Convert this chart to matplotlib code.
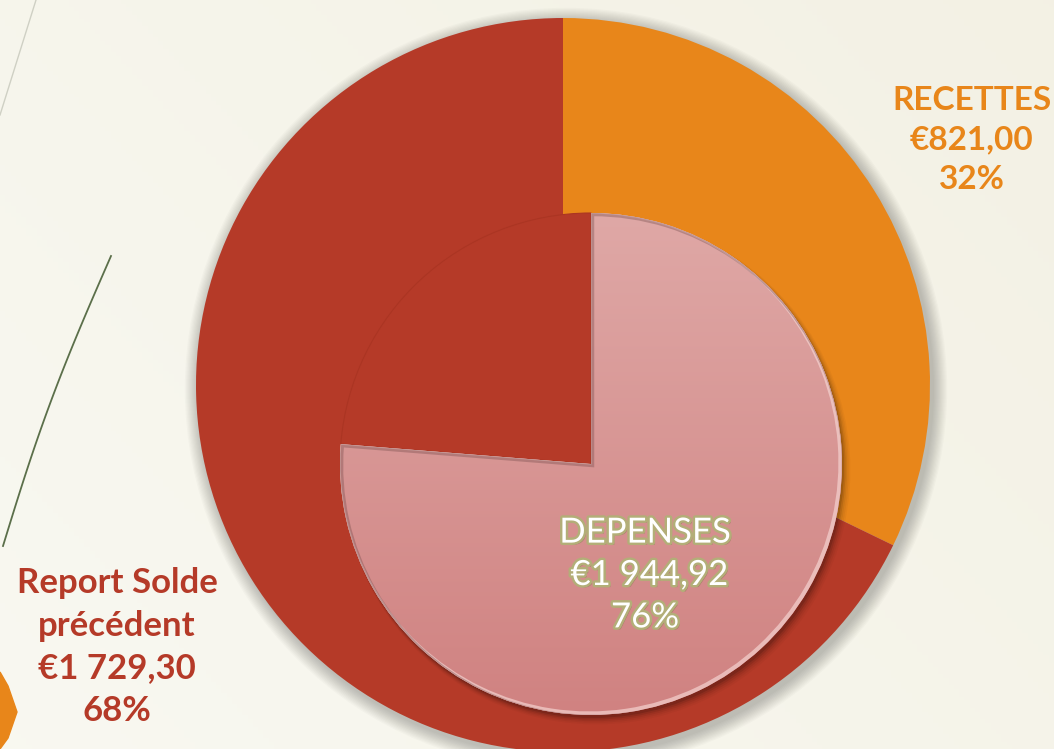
import numpy as np
import matplotlib
matplotlib.use("Agg")
import matplotlib.pyplot as plt
import matplotlib.patheffects as pe
from matplotlib.patches import Polygon, Circle, Wedge

# ---- data ----
outer_labels = ["RECETTES", "Report Solde\nprécédent"]
outer_values = [821.00, 1729.30]
inner_labels = ["DEPENSES", ""]
inner_values = [1944.92, 605.38]
total = sum(outer_values)

ORANGE = "#E8861A"
RED = "#B53A28"
PINK_TOP = "#DFA8A6"
PINK_BOT = "#D08281"

def euro(v):
    s = f"{v:,.2f}".replace(",", " ").replace(".", ",")
    return "€" + s

W, H = 1054, 749
fig = plt.figure(figsize=(W / 100, H / 100), dpi=100)
ax = fig.add_axes([0, 0, 1, 1])
ax.set_xlim(0, W)
ax.set_ylim(0, H)
ax.axis("off")

# background gradient
yy, xx = np.mgrid[0:1:200j, 0:1:200j]
t = (xx * 0.6 + (1 - yy) * 0.4)
c1 = np.array([0.975, 0.973, 0.945])
c2 = np.array([0.953, 0.945, 0.895])
bg = c1[None, None, :] * (1 - t[..., None]) + c2[None, None, :] * t[..., None]
ax.imshow(bg, extent=[0, W, 0, H], origin="upper", aspect="auto", zorder=0)

# decorative lines
ax.plot([36, 0], [H - 0, H - 115], color="#cfd0c4", lw=1.0, zorder=1)
ly = np.linspace(0, 1, 50)
lx = 111 - 108 * ly - 6 * np.sin(np.pi * ly)
ax.plot(lx, H - (256 + 290 * ly), color="#5b6f4a", lw=1.3, zorder=1)
ax.add_patch(Polygon([[0, H - 672], [8, H - 686], [17, H - 712], [8, H - 738], [0, H - 749]],
                     closed=True, color=ORANGE, zorder=1))

# outer pie
oc = (563, H - 385)
orad = 367
for i in range(12):
    ax.add_patch(Circle((oc[0] + 3, oc[1] - 4), orad + 1 + i * 1.2, color="black",
                        alpha=0.018, lw=0, zorder=2))
wo, _ = ax.pie(outer_values, center=oc, radius=orad, startangle=90, counterclock=False,
               colors=[ORANGE, RED], frame=True, wedgeprops=dict(lw=0))
for w in wo:
    w.set_zorder(3)

# inner pie
ic = (591, H - 464)
irad = 251
wi, _ = ax.pie(inner_values, center=ic, radius=irad, startangle=90, counterclock=False,
               colors=[PINK_TOP, RED], frame=True, wedgeprops=dict(lw=0))
wi[1].set_zorder(4)
wi[1].set_edgecolor("#ab3523")
wi[1].set_linewidth(0.8)
wi[0].set_zorder(6)

# shadow for DEPENSES wedge
th1, th2 = wi[0].theta1, wi[0].theta2
for i, a in enumerate([0.12, 0.09, 0.06, 0.04, 0.03]):
    sh = Wedge((ic[0] + 2 + i * 0.8, ic[1] - 3 - i * 0.8), irad + i * 0.8, th1, th2,
               color="black", alpha=a, lw=0, zorder=5)
    ax.add_patch(sh)

# gradient fill
g = np.linspace(0, 1, 256)[:, None]
ct = np.array(matplotlib.colors.to_rgb(PINK_TOP))
cb = np.array(matplotlib.colors.to_rgb(PINK_BOT))
grad = ct[None, None, :] * (1 - g[..., None]) + cb[None, None, :] * g[..., None]
grad = np.repeat(grad, 2, axis=1)
im = ax.imshow(grad, extent=[ic[0] - irad, ic[0] + irad, ic[1] - irad, ic[1] + irad],
               origin="upper", aspect="auto", zorder=7)
im.set_clip_path(wi[0])

# bevel: light on top-left edges, dark on bottom-right edges
hl = Wedge((ic[0] - 1.5, ic[1] + 1.5), irad, th1, th2, facecolor="none", edgecolor="#f4d2cf",
           lw=3, alpha=0.7, zorder=8)
ax.add_patch(hl)
hl.set_clip_path(wi[0])
dk = Wedge((ic[0] + 1.5, ic[1] - 1.5), irad, th1, th2, facecolor="none", edgecolor="#6e4646",
           lw=2.5, alpha=0.35, zorder=8)
ax.add_patch(dk)
dk.set_clip_path(wi[0])

ax.set_xlim(0, W)
ax.set_ylim(0, H)
ax.set_aspect("auto")

FONT = ["Lato", "DejaVu Sans"]

# labels
rec_txt = f"{outer_labels[0]}\n{euro(outer_values[0])}\n{outer_values[0] / total:.0%}"
ax.text(972, H - 140, rec_txt, ha="center", va="center", fontsize=24, fontweight="bold",
        color=ORANGE, family=FONT, linespacing=1.45, zorder=10)

rep_txt = f"{outer_labels[1]}\n{euro(outer_values[1])}\n{outer_values[1] / total:.0%}"
ax.text(117, H - 647, rep_txt, ha="center", va="center", fontsize=25, fontweight="bold",
        color=RED, family=FONT, linespacing=1.4, zorder=10)

dep_txt = f"{inner_labels[0]}\n {euro(inner_values[0])}\n{inner_values[0] / sum(inner_values):.0%}"
ax.text(645, H - 575, dep_txt, ha="center", va="center", fontsize=25,
        color="white", family=FONT, linespacing=1.4, zorder=10,
        path_effects=[pe.withSimplePatchShadow(offset=(1.5, -1.5), shadow_rgbFace="#7d6a4a", alpha=0.5),
                      pe.Stroke(linewidth=3.5, foreground="#b3ae78"), pe.Normal()])

fig.savefig("out.png", dpi=100)
